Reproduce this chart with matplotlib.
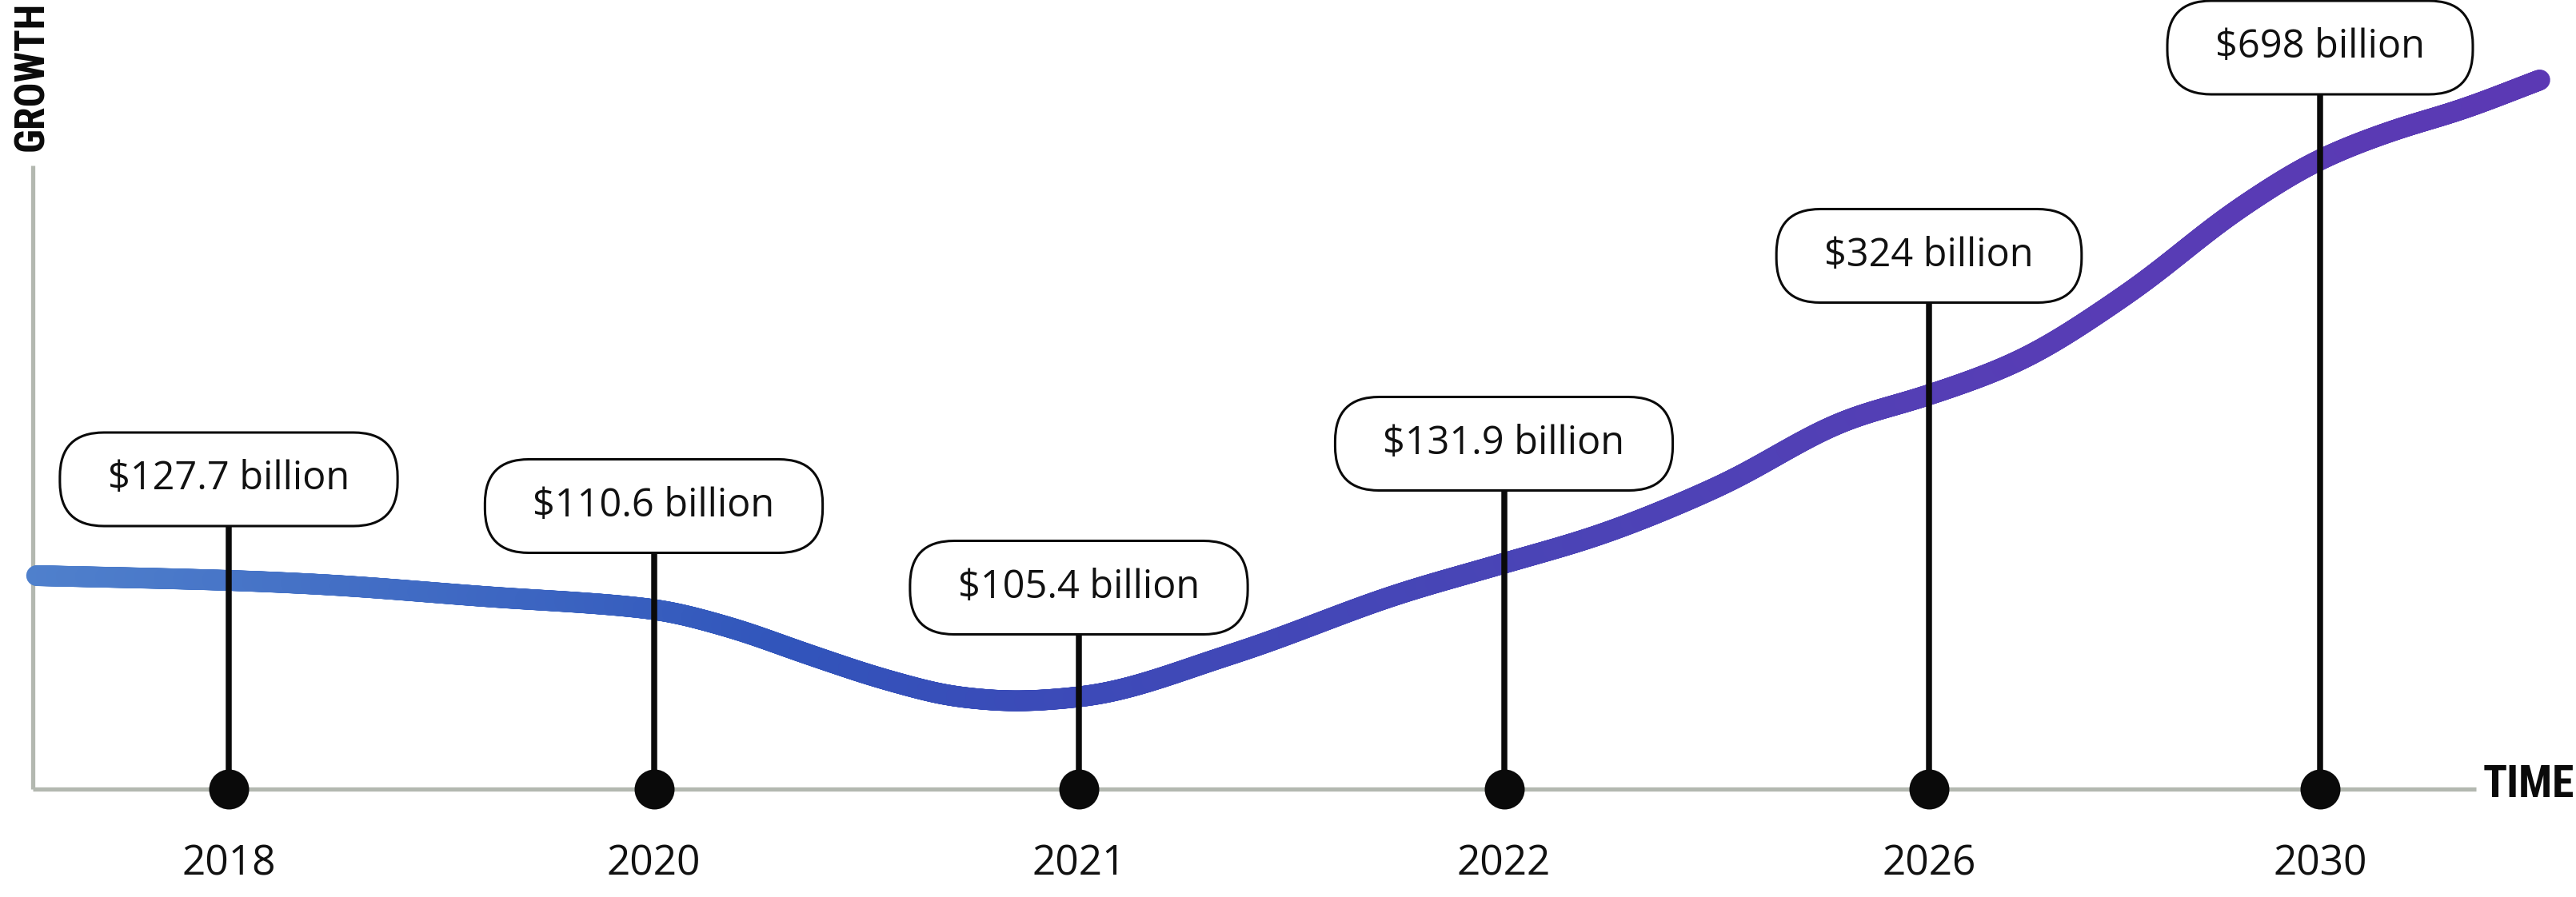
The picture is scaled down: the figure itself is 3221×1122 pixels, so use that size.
import numpy as np
import matplotlib.pyplot as plt
from matplotlib import font_manager
from matplotlib.collections import LineCollection
from matplotlib.colors import LinearSegmentedColormap
from matplotlib.patches import FancyBboxPatch

# data
years = ["2018", "2020", "2021", "2022", "2026", "2030"]
market = ["$127.7 billion", "$110.6 billion", "$105.4 billion",
          "$131.9 billion", "$324 billion", "$698 billion"]
year_pos = [0, 1, 2, 3, 4, 4.92]
label_level = [3.875, 3.54, 2.52, 4.32, 6.67, 9.275]

# decorative growth curve (timeline position, level)
curve_t = [-0.452, 0, 0.215, 0.598, 0.999, 1.174, 1.366, 1.558, 1.720, 1.851,
           1.998, 2.361, 2.758, 2.997, 3.219, 3.507, 3.808, 3.994, 4.205,
           4.468, 4.732, 4.922, 5.099, 5.247, 5.437]
curve_level = [2.67, 2.61, 2.56, 2.41, 2.25, 2.03, 1.68, 1.35, 1.15, 1.10,
               1.15, 1.69, 2.45, 2.82, 3.17, 3.79, 4.62, 4.92, 5.34,
               6.20, 7.27, 7.88, 8.25, 8.49, 8.87]

# pixels per data unit
PX_X = 531.5
PX_Y = 100.0


def pchip(x, y, xs):
    x = np.asarray(x, float)
    y = np.asarray(y, float)
    h = np.diff(x)
    delta = np.diff(y) / h
    n = len(x)
    m = np.zeros(n)
    for k in range(1, n - 1):
        if delta[k - 1] * delta[k] > 0:
            w1 = 2 * h[k] + h[k - 1]
            w2 = h[k] + 2 * h[k - 1]
            m[k] = (w1 + w2) / (w1 / delta[k - 1] + w2 / delta[k])
    m[0] = delta[0]
    m[-1] = delta[-1]
    idx = np.clip(np.searchsorted(x, xs) - 1, 0, n - 2)
    s = (xs - x[idx]) / h[idx]
    h00 = 2 * s ** 3 - 3 * s ** 2 + 1
    h10 = s ** 3 - 2 * s ** 2 + s
    h01 = -2 * s ** 3 + 3 * s ** 2
    h11 = s ** 3 - s ** 2
    return h00 * y[idx] + h10 * h[idx] * m[idx] + h01 * y[idx + 1] + h11 * h[idx] * m[idx + 1]


def smooth(y, sigma):
    # gaussian smoothing, odd reflection keeps the end slopes
    r = int(4 * sigma)
    k = np.exp(-0.5 * (np.arange(-r, r + 1) / sigma) ** 2)
    k /= k.sum()
    yp = np.pad(y, r, mode="reflect", reflect_type="odd")
    return np.convolve(yp, k, mode="valid")


fig = plt.figure(figsize=(32.21, 11.22), dpi=100)
ax = fig.add_axes([0, 0, 1, 1])
ax.set_xlim(-286 / PX_X, (3221 - 286) / PX_X)
ax.set_ylim(-(1122 - 987) / PX_Y, 987 / PX_Y)
ax.axis("off")

axis_col = "#b3b8b0"
ink = "#0a0a0a"

# axes lines
ax.plot([-0.461, -0.461], [0, 7.8], color=axis_col, lw=3.8, solid_capstyle="butt", zorder=1)
ax.plot([-0.461, 5.287], [0, 0], color=axis_col, lw=3.8, solid_capstyle="butt", zorder=1)

# gradient curve
xs = np.linspace(curve_t[0], curve_t[-1], 3000)
ys = smooth(pchip(curve_t, curve_level, xs), 18)
pts = np.column_stack([xs, ys]).reshape(-1, 1, 2)
segs = np.concatenate([pts[:-1], pts[1:]], axis=1)
cmap = LinearSegmentedColormap.from_list(
    "grow", [(0.0, "#4f80cc"), (0.22, "#3a62c0"), (0.3, "#3155bb"),
             (0.4, "#3b4bb8"), (0.6, "#4a44b6"), (0.8, "#573db5"), (1.0, "#5b39b4")])
lc = LineCollection(segs, cmap=cmap, linewidths=18.7, capstyle="round", zorder=2)
lc.set_array((xs[:-1] - xs[0]) / (xs[-1] - xs[0]))
lc.set_clim(0, 1)
ax.add_collection(lc)

# stems and dots
box_h = 117 / PX_Y
stem_top = np.array(label_level) - box_h / 2
ax.vlines(year_pos, 0, stem_top, color=ink, lw=5.4, zorder=3)
ax.scatter(year_pos, np.zeros(len(year_pos)), s=36 ** 2, color=ink, zorder=5, linewidths=0)

# year labels
for p, yr in zip(year_pos, years):
    ax.text(p, -0.94, yr, ha="center", va="center", fontsize=37,
            family="Open Sans", color="#111111", zorder=6)

# value labels in pill boxes
renderer = fig.canvas.get_renderer()
for p, lvl, txt in zip(year_pos, label_level, market):
    t = ax.text(p, lvl, txt, ha="center", va="center", fontsize=35,
                family="Open Sans", color="#111111", zorder=8)
    w = (t.get_window_extent(renderer).width + 120) / PX_X
    box = FancyBboxPatch((p - w / 2, lvl - box_h / 2), w, box_h,
                         boxstyle="round,pad=0,rounding_size=%f" % (55 / PX_X),
                         mutation_aspect=PX_X / PX_Y,
                         facecolor="white", edgecolor=ink, lw=2.2, zorder=7)
    ax.add_patch(box)

# axis titles: heavy condensed face if one is around
installed = {f.name for f in font_manager.fontManager.ttflist}
if "Roboto Condensed" in installed:
    heavy, tsize, gsize, wt = "Roboto Condensed", 40, 37, "black"
elif "Liberation Sans Narrow" in installed:
    heavy, tsize, gsize, wt = "Liberation Sans Narrow", 40, 37, "bold"
else:
    heavy, tsize, gsize, wt = "Liberation Sans", 34, 31, "bold"
ax.text((3219 - 286) / PX_X, 0.05, "TIME", ha="right", va="center", fontsize=tsize,
        family=[heavy, "DejaVu Sans"], fontweight=wt, color=ink)
ax.text(-0.463, 9.85, "GROWTH", ha="center", va="top", rotation=90,
        fontsize=gsize, family=[heavy, "DejaVu Sans"], fontweight=wt, color=ink)

fig.savefig("out.png", dpi=100)
